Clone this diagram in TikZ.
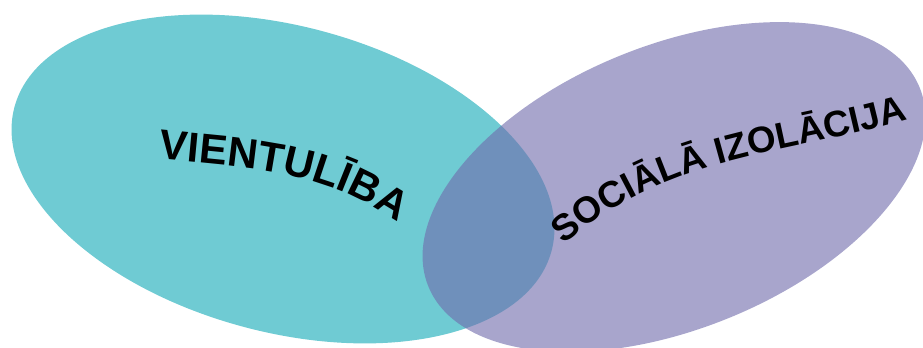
\documentclass[tikz,border=0pt]{standalone}
\usepackage{fontspec}
\setmainfont{Liberation Sans}
\usetikzlibrary{decorations.text}
\definecolor{lonelyteal}{RGB}{111,203,211}
\definecolor{isolpurple}{RGB}{112,108,172}
\newcommand{\lonelyfont}{\fontsize{42}{48}\selectfont\bfseries}
\newcommand{\isolfont}{\fontsize{37}{44}\selectfont\bfseries}
\tikzset{
  lonelyset/.style={fill=lonelyteal, draw=none},
  isolset/.style={fill=isolpurple, fill opacity=0.61, draw=none},
  arclabel/.style={decorate, decoration={text along path, text align=center, text={#1}}}
}
\begin{document}
\begin{tikzpicture}[x=1bp,y=1bp]
  % Frame
  \clip (0,0) rectangle (923,347);
  % Sets
  \fill[lonelyset] (283,168) ellipse [x radius=278, y radius=153, rotate=-15];
  \fill[isolset] (674,160) ellipse [x radius=265, y radius=142, rotate=22];
  % Labels
  \coordinate (lonelyA) at (150,189);
  \coordinate (lonelyB) at (406,120);
  \coordinate (isolA) at (560,100);
  \coordinate (isolB) at (912,229);
  \path[arclabel={|\lonelyfont|VIENTULĪBA}] (lonelyA) to[out=-6,in=145] (lonelyB);
  \path[arclabel={|\isolfont|SOCIĀLĀ IZOLĀCIJA}] (isolA) to[out=40,in=196] (isolB);
\end{tikzpicture}
\end{document}
